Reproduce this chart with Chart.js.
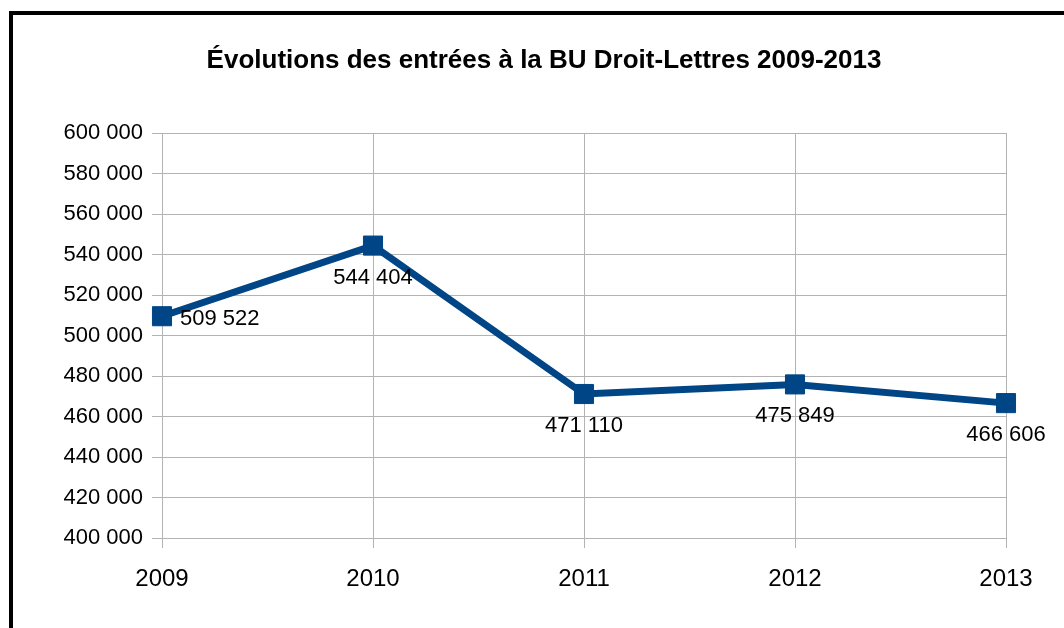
<!DOCTYPE html>
<html>
<head>
<meta charset="utf-8">
<script src="https://cdn.jsdelivr.net/npm/chart.js@4/dist/chart.umd.min.js"></script>
<style>
  html, body { margin: 0; padding: 0; background: #fff; }
  #wrap { position: relative; width: 1064px; height: 628px; overflow: hidden; }
  #cadre { position: absolute; left: 9px; top: 11px; width: 1100px; height: 700px;
           border-left: 4px solid #000; border-top: 4px solid #000; box-sizing: border-box; }
  canvas { position: absolute; left: 0; top: 0; }
</style>
</head>
<body>
<div id="wrap">
  <div id="cadre"></div>
  <canvas id="graphique" width="1064" height="628"></canvas>
</div>
<script>
// Données
const annees = ["2009", "2010", "2011", "2012", "2013"];
const entrees = [509522, 544404, 471110, 475849, 466606];
const titre = "Évolutions des entrées à la BU Droit-Lettres 2009-2013";

const bleu = "#004586";
const gris = "#b3b3b3";
const police = "'Liberation Sans', Arial, sans-serif";

function formatNombre(n) {
  return String(n).replace(/\B(?=(\d{3})+(?!\d))/g, " ");
}

// Titre et étiquettes de valeurs
const pluginTextes = {
  id: "textes",
  afterDatasetsDraw(chart) {
    const ctx = chart.ctx;
    ctx.save();
    ctx.fillStyle = "#000";
    ctx.font = "bold 26px " + police;
    ctx.textAlign = "center";
    ctx.textBaseline = "alphabetic";
    ctx.fillText(titre, 544, 68);

    ctx.textBaseline = "middle";
    ctx.font = "22px " + police;
    const meta = chart.getDatasetMeta(0);
    meta.data.forEach((pt, i) => {
      const txt = formatNombre(entrees[i]);
      if (i === 0) {
        ctx.textAlign = "left";
        ctx.fillText(txt, pt.x + 18, pt.y + 3);
      } else {
        ctx.textAlign = "center";
        ctx.fillText(txt, pt.x, pt.y + 32);
      }
    });
    ctx.restore();
  }
};

new Chart(document.getElementById("graphique").getContext("2d"), {
  type: "line",
  data: {
    labels: annees,
    datasets: [{
      data: entrees,
      borderColor: bleu,
      backgroundColor: bleu,
      borderWidth: 7,
      tension: 0,
      pointStyle: "rect",
      pointRadius: 13.5,
      pointBorderWidth: 1,
      pointBorderColor: bleu,
      pointBackgroundColor: bleu,
      clip: false
    }]
  },
  options: {
    responsive: false,
    animation: false,
    layout: { padding: { top: 133, right: 58, left: 0, bottom: 0 } },
    plugins: {
      legend: { display: false },
      title: { display: false },
      tooltip: { enabled: false }
    },
    scales: {
      x: {
        offset: false,
        grid: { color: gris, lineWidth: 1, tickLength: 10, drawTicks: true },
        border: { color: gris },
        ticks: { color: "#000", font: { family: police, size: 24 }, padding: 17, maxRotation: 0 },
        afterFit: s => { s.height = 90; }
      },
      y: {
        min: 400000,
        max: 600000,
        grid: { color: gris, lineWidth: 1, tickLength: 10 },
        border: { color: gris },
        ticks: {
          stepSize: 20000,
          color: "#000",
          padding: 9,
          font: { family: police, size: 22 },
          callback: v => formatNombre(v)
        },
        afterFit: s => { s.width = 162; }
      }
    }
  },
  plugins: [pluginTextes]
});
</script>
</body>
</html>
